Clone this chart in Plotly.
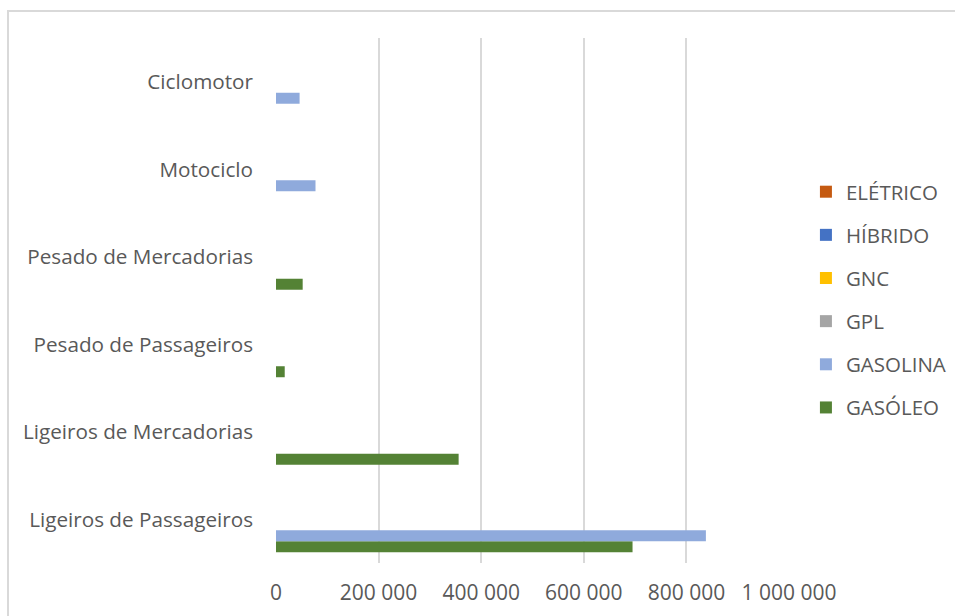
import plotly.graph_objects as go

# Vehicle categories (bottom to top)
categorias = [
    "Ligeiros de Passageiros",
    "Ligeiros de Mercadorias",
    "Pesado de Passageiros",
    "Pesado de Mercadorias",
    "Motociclo",
    "Ciclomotor",
]

# Fleet counts per fuel type
gasoleo = [695000, 356000, 17000, 52000, 0, 0]
gasolina = [838000, 0, 0, 0, 77000, 46000]
gpl = [0, 0, 0, 0, 0, 0]
gnc = [0, 0, 0, 0, 0, 0]
hibrido = [0, 0, 0, 0, 0, 0]
eletrico = [0, 0, 0, 0, 0, 0]

series = [
    ("GASÓLEO", gasoleo, "#548235"),
    ("GASOLINA", gasolina, "#8FAADC"),
    ("GPL", gpl, "#A5A5A5"),
    ("GNC", gnc, "#FFC000"),
    ("HÍBRIDO", hibrido, "#4472C4"),
    ("ELÉTRICO", eletrico, "#C55A11"),
]

x_ticks = [0, 200000, 400000, 600000, 800000, 1000000]
x_tick_labels = ["0", "200 000", "400 000", "600 000", "800 000", "1 000 000"]

FONT = "Open Sans"
TEXT = "#595959"
GRID = "#D9D9D9"

fig = go.Figure()
n = len(series)
for i, (nome, valores, cor) in enumerate(series):
    fig.add_trace(go.Bar(
        y=categorias,
        x=valores,
        name=nome,
        orientation="h",
        marker=dict(color=cor, line=dict(width=0)),
        legendgroup=nome,
        legendrank=n - i,
    ))

W, H = 955, 616
L, R, T, B = 276, 166, 38, 53
pw, ph = W - L - R, H - T - B

fig.update_layout(
    width=W,
    height=H,
    margin=dict(l=L, r=R, t=T, b=B, autoexpand=False),
    barmode="group",
    bargap=0.246,
    bargroupgap=0,
    plot_bgcolor="white",
    paper_bgcolor="white",
    font=dict(family=FONT, color=TEXT, size=18),
    legend=dict(
        traceorder="grouped",
        tracegroupgap=13.5,
        x=1.033,
        y=0.745,
        xanchor="left",
        yanchor="top",
        font=dict(size=20.5, color=TEXT, family=FONT),
        itemwidth=30,
        bgcolor="rgba(0,0,0,0)",
    ),
    xaxis=dict(
        range=[0, 1000000],
        tickvals=x_ticks,
        ticktext=x_tick_labels,
        showgrid=True,
        gridcolor=GRID,
        gridwidth=1.5,
        zeroline=False,
        showline=False,
        ticks="",
        tickfont=dict(size=21, color=TEXT, family=FONT),
        ticklabelstandoff=15,
        fixedrange=True,
    ),
    yaxis=dict(
        categoryorder="array",
        categoryarray=categorias,
        showgrid=False,
        zeroline=False,
        showline=False,
        ticks="",
        tickfont=dict(size=20.7, color=TEXT, family=FONT),
        ticklabelstandoff=22,
        fixedrange=True,
    ),
    shapes=[
        dict(
            type="rect",
            xref="paper",
            yref="paper",
            x0=(8 - L) / pw,
            x1=(W + 10 - L) / pw,
            y0=(H - B - (H + 10)) / ph,
            y1=(H - B - 11) / ph,
            line=dict(color=GRID, width=2),
            fillcolor="rgba(0,0,0,0)",
            layer="below",
        )
    ],
)

fig.write_html("out.html")
